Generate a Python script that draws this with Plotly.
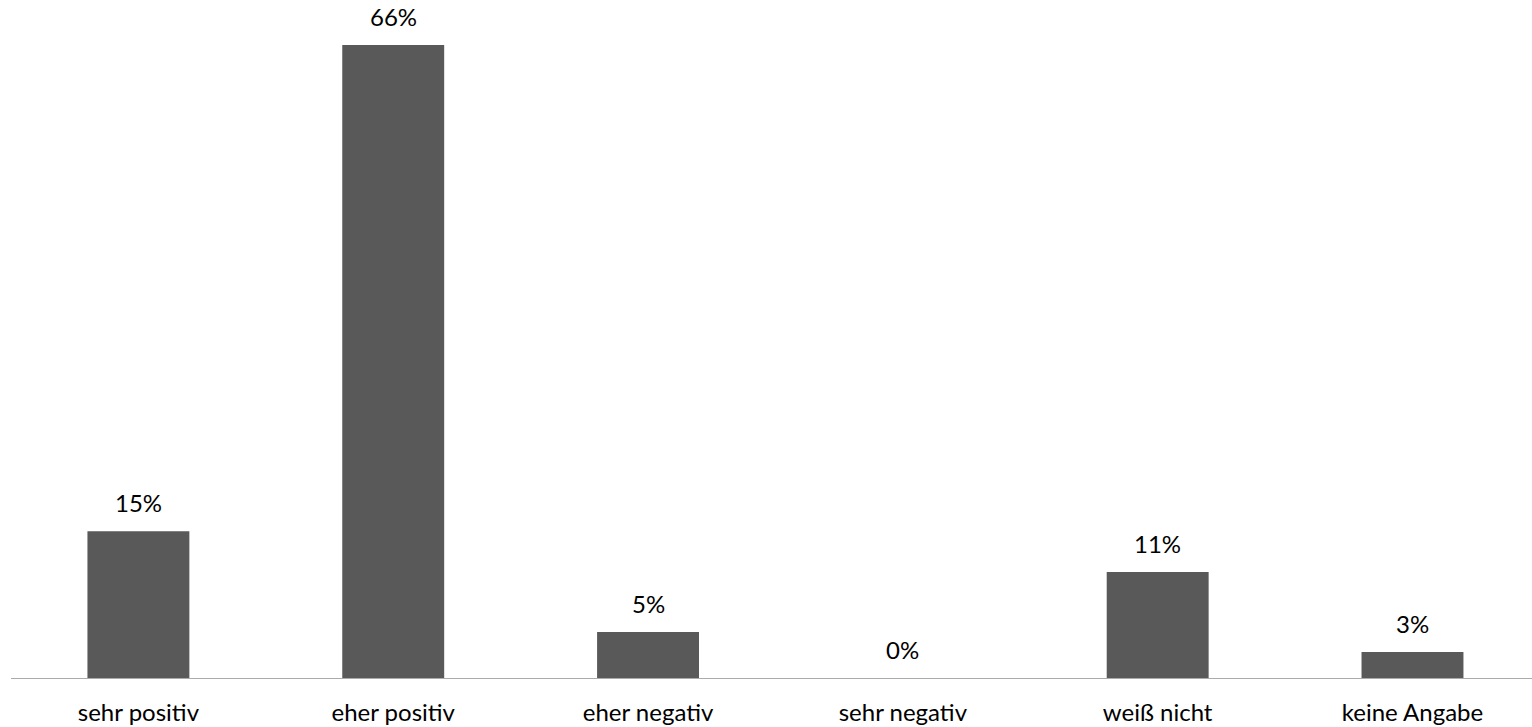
import plotly.graph_objects as go

categories = ["sehr positiv", "eher positiv", "eher negativ", "sehr negativ", "weiß nicht", "keine Angabe"]
values = [15.3, 66.0, 4.8, 0.0, 11.05, 2.7]
labels = ["15%", "66%", "5%", "0%", "11%", "3%"]

FONT = "Lato"

fig = go.Figure(go.Bar(
    x=categories, y=values,
    marker=dict(color="#595959", line=dict(width=0)),
    hoverinfo="skip",
))
for c, v, t in zip(categories, values, labels):
    fig.add_annotation(x=c, y=v, text=t, showarrow=False, yanchor="bottom",
                       yshift=12, font=dict(family=FONT, size=24, color="#000000"))

fig.update_layout(
    width=1532, height=727,
    margin=dict(l=11, r=0, t=8, b=49),
    paper_bgcolor="white", plot_bgcolor="white",
    bargap=0.6, showlegend=False,
    font=dict(family=FONT, size=24, color="#000000"),
)
fig.update_xaxes(range=[-0.5, 5.469], showline=True, linecolor="#ababab", linewidth=1,
                 ticks="", ticklabelstandoff=13, showgrid=False,
                 tickfont=dict(family=FONT, size=24, color="#000000"))
fig.update_yaxes(range=[0, 69.86], visible=False, showgrid=False, zeroline=False)
fig.write_html("out.html", config={"displayModeBar": False},
               post_script="document.body.style.margin='0';document.body.style.overflow='hidden';")
